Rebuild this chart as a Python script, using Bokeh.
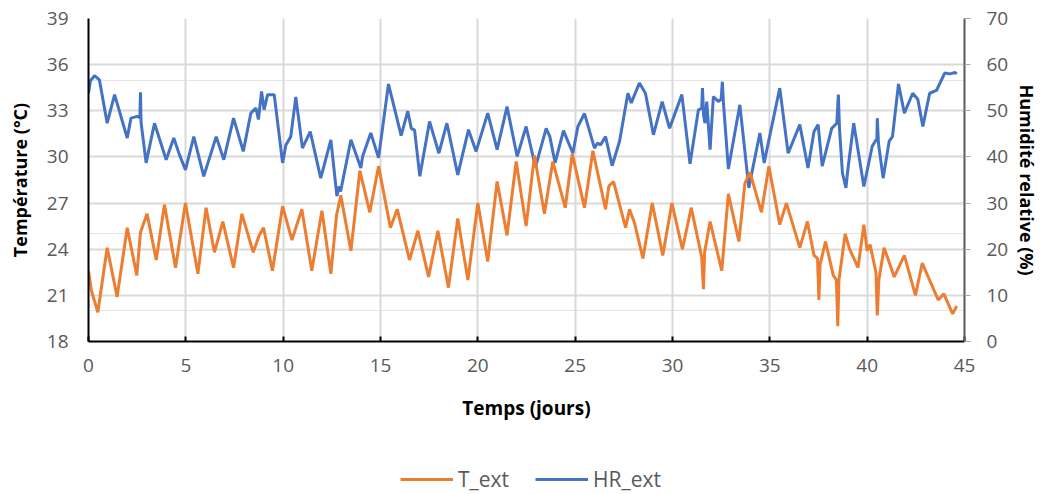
from bokeh.plotting import figure
from bokeh.models import Range1d, LinearAxis, FixedTicker, Legend, LegendItem, Grid
from bokeh.layouts import column
from bokeh.embed import file_html
from bokeh.resources import INLINE

# Outdoor temperature (°C) against time (days)
t_days = [0.0, 0.15, 0.48, 0.96, 1.47, 1.99, 2.48, 2.67, 3.01, 3.48, 3.90, 4.47, 4.98,
          5.62, 6.04, 6.47, 6.90, 7.45, 7.88, 8.46, 8.77, 8.99, 9.45, 9.97, 10.45,
          10.96, 11.47, 11.99, 12.45, 12.74, 12.96, 13.48, 13.94, 14.45, 14.90, 15.51,
          15.86, 16.49, 16.92, 17.47, 17.95, 18.49, 18.97, 19.49, 20.00, 20.51, 20.99,
          21.50, 21.97, 22.48, 22.91, 23.42, 23.85, 24.49, 24.85, 25.48, 25.91, 26.56,
          26.73, 26.97, 27.59, 27.79, 28.05, 28.48, 28.96, 29.50, 29.97, 30.51, 30.96,
          31.50, 31.59, 31.65, 31.93, 32.53, 32.87, 33.41, 33.72, 33.98, 34.57, 34.95,
          35.51, 35.85, 36.54, 36.93, 37.27, 37.45, 37.52, 37.58, 37.86, 38.26, 38.42,
          38.49, 38.55, 38.87, 39.10, 39.53, 39.83, 40.00, 40.15, 40.45, 40.52, 40.60,
          40.87, 41.39, 41.91, 42.48, 42.83, 43.65, 43.94, 44.39, 44.60]
t_ext = [22.6, 21.3, 19.9, 24.1, 20.9, 25.4, 22.3, 25.1, 26.3, 23.3, 26.9, 22.8, 27.0,
         22.4, 26.7, 23.8, 25.8, 22.8, 26.3, 23.8, 24.9, 25.4, 22.6, 26.8, 24.6,
         26.6, 22.6, 26.5, 22.4, 26.2, 27.5, 23.9, 29.1, 26.4, 29.4, 25.4,
         26.6, 23.3, 25.2, 22.2, 25.2, 21.5, 26.0, 22.0, 27.0, 23.2, 28.4,
         24.9, 29.7, 25.5, 30.1, 26.3, 29.7, 26.7, 30.2, 26.7, 30.4, 26.6,
         28.1, 28.4, 25.4, 26.6, 25.7, 23.4, 27.0, 23.6, 27.0, 24.0, 26.7,
         23.5, 21.4, 23.8, 25.8, 22.6, 27.6, 24.5, 28.3, 29.0, 26.4, 29.4,
         25.6, 27.0, 24.1, 25.8, 23.6, 23.4, 20.7, 23.0, 24.5, 22.3, 22.0,
         19.0, 22.0, 25.0, 24.0, 22.8, 25.6, 23.9, 24.3, 22.5, 19.7, 22.0,
         24.1, 22.2, 23.6, 21.0, 23.1, 20.7, 21.1, 19.8, 20.3]

# Outdoor relative humidity (%) against time (days)
h_days = [0.0, 0.10, 0.31, 0.56, 0.96, 1.34, 1.99, 2.18, 2.50, 2.64, 2.67, 2.70, 2.96,
          3.39, 3.99, 4.38, 4.67, 4.98, 5.41, 5.92, 6.56, 6.95, 7.45, 7.95, 8.34,
          8.60, 8.73, 8.89, 9.02, 9.20, 9.54, 9.97, 10.14, 10.39, 10.65, 10.99, 11.39,
          11.93, 12.45, 12.76, 12.88, 12.95, 13.48, 13.99, 14.08, 14.50, 14.90, 15.41,
          15.86, 16.06, 16.40, 16.58, 16.75, 17.02, 17.52, 18.00, 18.41, 18.97, 19.52,
          19.91, 20.51, 20.99, 21.50, 22.02, 22.48, 22.96, 23.51, 23.70, 23.97, 24.40,
          24.88, 25.14, 25.48, 25.99, 26.15, 26.30, 26.56, 26.90, 27.28, 27.71, 27.88,
          28.30, 28.61, 29.02, 29.47, 29.85, 30.48, 30.90, 31.33, 31.50, 31.54, 31.60,
          31.67, 31.76, 31.93, 32.10, 32.35, 32.50, 32.56, 32.62, 32.87, 33.46, 33.92,
          34.49, 34.71, 34.82, 35.51, 35.94, 36.54, 36.96, 37.27, 37.48, 37.69, 38.18,
          38.44, 38.52, 38.58, 38.73, 38.91, 39.00, 39.31, 39.83, 40.26, 40.50, 40.52,
          40.58, 40.82, 41.13, 41.30, 41.61, 41.91, 42.34, 42.60, 42.86, 43.21, 43.56,
          43.99, 44.25, 44.51, 44.60]
hr_ext = [53.8, 56.5, 57.6, 56.7, 47.3, 53.5, 44.1, 48.4, 48.8, 48.5, 54.0, 47.5, 38.7,
          47.3, 39.4, 44.1, 40.5, 37.2, 44.4, 35.8, 44.4, 39.4, 48.4, 41.2, 49.5,
          50.6, 48.1, 54.2, 50.2, 53.5, 53.5, 38.7, 42.6, 44.4, 53.0, 41.9, 45.5,
          35.4, 43.7, 31.5, 33.6, 32.5, 43.7, 37.6, 40.1, 45.2, 39.8, 55.8,
          48.1, 44.6, 49.9, 46.2, 45.8, 35.8, 47.7, 40.8, 47.3, 36.1, 45.9,
          41.2, 49.5, 41.6, 50.9, 40.1, 46.6, 37.8, 46.2, 44.4, 38.7, 45.7,
          40.8, 46.6, 49.4, 41.9, 43.0, 42.6, 44.4, 38.1, 43.4, 53.8, 51.7,
          56.0, 53.8, 44.8, 52.0, 46.2, 53.5, 38.5, 50.2, 50.5, 54.9, 49.0,
          47.3, 52.0, 41.6, 53.1, 52.0, 52.5, 56.3, 51.5, 37.4, 51.3, 33.3,
          45.2, 38.7, 41.0, 54.9, 40.8, 47.0, 37.6, 45.5, 47.0, 38.0, 46.2,
          47.3, 53.5, 46.0, 36.5, 33.3, 37.0, 47.3, 33.6, 42.3, 44.0, 48.4,
          43.0, 35.4, 43.4, 44.4, 55.8, 49.5, 53.8, 52.5, 46.6, 53.8, 54.4,
          58.2, 58.0, 58.3, 58.0]

x_ticks = [0, 5, 10, 15, 20, 25, 30, 35, 40, 45]
t_ticks = [18, 21, 24, 27, 30, 33, 36, 39]
hr_ticks = [0, 10, 20, 30, 40, 50, 60, 70]

ORANGE = "#ED7D31"
BLUE = "#4472C4"
GRID = "#D9D9D9"
TICK_TXT = "#595959"
FONT = "Open Sans"
LINE_W = 3

p = figure(width=1048, height=455, output_backend="svg", toolbar_location=None,
           x_range=Range1d(0, 45), y_range=Range1d(18, 39),
           min_border_left=88, min_border_right=84, min_border_top=18,
           min_border_bottom=114, x_axis_location=None, y_axis_location=None)
p.extra_y_ranges = {"hr": Range1d(0, 70)}
p.outline_line_color = None
p.background_fill_color = "white"
p.border_fill_color = "white"

# axes
xaxis = LinearAxis(ticker=FixedTicker(ticks=x_ticks), axis_label="Temps (jours)")
yaxis = LinearAxis(ticker=FixedTicker(ticks=t_ticks), axis_label="Température (°C)")
raxis = LinearAxis(ticker=FixedTicker(ticks=hr_ticks), y_range_name="hr",
                   axis_label="Humidité relative (%)")
for ax in (xaxis, yaxis, raxis):
    ax.major_label_text_font = FONT
    ax.major_label_text_font_size = "19px"
    ax.major_label_text_color = TICK_TXT
    ax.axis_label_text_font = FONT
    ax.axis_label_text_font_size = "18px"
    ax.axis_label_text_font_style = "bold"
    ax.axis_label_text_color = "#000000"
    ax.minor_tick_line_color = None

xaxis.axis_line_color = "#000000"
xaxis.axis_line_width = 2
xaxis.major_tick_in = 5
xaxis.major_tick_out = 0
xaxis.major_tick_line_color = "#000000"
xaxis.major_tick_line_width = 2
xaxis.major_label_standoff = 17
xaxis.axis_label_standoff = 20
xaxis.axis_label_text_font_size = "19px"

yaxis.axis_line_color = "#000000"
yaxis.axis_line_width = 2
yaxis.major_tick_line_color = None
yaxis.major_label_standoff = 14
yaxis.axis_label_standoff = 12

raxis.axis_line_color = "#595959"
raxis.axis_line_width = 2
raxis.major_tick_in = 0
raxis.major_tick_out = 6
raxis.major_tick_line_color = "#A6A6A6"
raxis.major_label_standoff = 16
raxis.axis_label_standoff = 4

p.add_layout(xaxis, "below")
p.add_layout(yaxis, "left")
p.add_layout(raxis, "right")

p.add_layout(Grid(dimension=0, ticker=FixedTicker(ticks=x_ticks),
                  grid_line_color=GRID, grid_line_width=2))
p.add_layout(Grid(dimension=1, ticker=FixedTicker(ticks=t_ticks),
                  grid_line_color=GRID, grid_line_width=2))

p.line(h_days, hr_ext, y_range_name="hr", line_color=BLUE, line_width=LINE_W)
p.line(t_days, t_ext, line_color=ORANGE, line_width=LINE_W)

# legend strip underneath the chart; its ranges keep the series out of view,
# so only the legend keys show
leg = figure(width=1048, height=39, output_backend="svg", toolbar_location=None,
             x_range=Range1d(0, 45), y_range=Range1d(200, 201),
             min_border=0, x_axis_location=None, y_axis_location=None)
leg.outline_line_color = None
leg.grid.visible = False
k_t = leg.line(t_days, t_ext, line_color=ORANGE, line_width=LINE_W)
k_hr = leg.line(h_days, hr_ext, line_color=BLUE, line_width=LINE_W)
legend = Legend(items=[LegendItem(label="T_ext", renderers=[k_t]),
                       LegendItem(label="HR_ext", renderers=[k_hr])],
                orientation="horizontal", location=(312, 1),
                border_line_color=None, background_fill_alpha=0,
                padding=0, margin=0, spacing=26, glyph_width=53, glyph_height=20,
                label_height=20, label_standoff=5,
                label_text_font=FONT, label_text_font_size="21px",
                label_text_color=TICK_TXT)
leg.add_layout(legend, "center")

open("out.html", "w").write(file_html(column(p, leg, spacing=0), INLINE))
